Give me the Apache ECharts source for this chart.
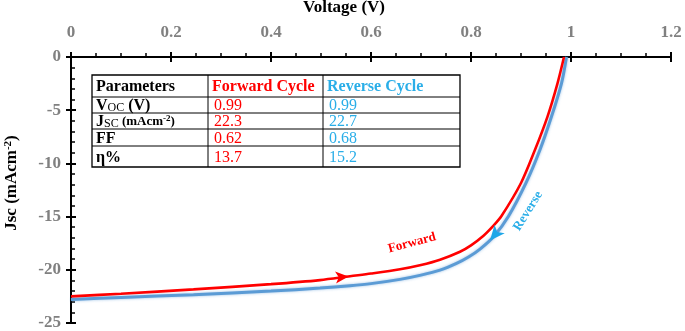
<!DOCTYPE html>
<html>
<head>
<meta charset="utf-8">
<script src="https://cdn.jsdelivr.net/npm/echarts@6/dist/echarts.min.js"></script>
<style>
html, body { margin: 0; padding: 0; background: #fff; }
#main { width: 685px; height: 331px; }
</style>
</head>
<body>
<div id="main"></div>
<script>
var chart = echarts.init(document.getElementById('main'));

// forward scan (red)
var fwdV = [0, 0.1, 0.245, 0.4, 0.498, 0.558, 0.6, 0.658, 0.70, 0.738, 0.778, 0.80, 0.825, 0.845, 0.861, 0.900, 0.928, 0.953, 0.973, 0.986];
var fwdJ = [-22.5, -22.25, -21.84, -21.35, -20.97, -20.6, -20.35, -19.95, -19.55, -19.05, -18.3, -17.7, -16.8, -15.85, -14.95, -11.84, -8.72, -5.6, -2.47, 0];
// reverse scan (blue)
var revV = [0, 0.1, 0.245, 0.4, 0.498, 0.558, 0.6, 0.658, 0.70, 0.738, 0.771, 0.795, 0.818, 0.846, 0.875, 0.910, 0.938, 0.961, 0.981, 0.991];
var revJ = [-22.78, -22.6, -22.34, -22.0, -21.72, -21.5, -21.3, -20.9, -20.5, -20.03, -19.4, -18.8, -18.05, -16.84, -14.97, -11.84, -8.72, -5.6, -2.47, 0];

var xTicks = ['0', '0.2', '0.4', '0.6', '0.8', '1', '1.2'];

// table
var tableHead = ['Parameters', 'Forward Cycle', 'Reverse Cycle'];
var tableRows = ['Voc (V)', 'Jsc (mAcm-2)', 'FF', 'η%'];
var fwdParams = ['0.99', '22.3', '0.62', '13.7'];
var revParams = ['0.99', '22.7', '0.68', '15.2'];

function pairs(xs, ys) {
    return xs.map(function (x, i) { return [x, ys[i]]; });
}

var serif = 'Liberation Serif';
var red = '#ff0000';
var blue = '#5b9bd5';
var lightBlue = '#2aaee8';

// table layout
var colX = [92, 208, 323, 460];
var rowY = [75, 97, 113, 129, 146, 167];
var tableEls = [];
tableEls.push({
    type: 'rect', shape: { x: colX[0], y: rowY[0], width: colX[3] - colX[0], height: rowY[5] - rowY[0] },
    style: { fill: '#fff', stroke: '#000', lineWidth: 1.3 }
});
for (var c = 1; c < 3; c++) {
    tableEls.push({ type: 'line', shape: { x1: colX[c], y1: rowY[0], x2: colX[c], y2: rowY[5] }, style: { stroke: '#000', lineWidth: 1 } });
}
for (var r = 1; r < 5; r++) {
    tableEls.push({ type: 'line', shape: { x1: colX[0], y1: rowY[r], x2: colX[3], y2: rowY[r] }, style: { stroke: '#000', lineWidth: 1 } });
}
var headColors = ['#000', red, lightBlue];
tableHead.forEach(function (t, i) {
    tableEls.push({
        type: 'text', x: colX[i] + 4, y: (rowY[0] + rowY[1]) / 2 + 1,
        style: { text: t, fill: headColors[i], font: 'bold 16px ' + serif, verticalAlign: 'middle' }
    });
});
var rowRich = [
    '{b|V}{s|OC}{b| (V)}',
    '{b|J}{s|SC}{m| (mAcm}{sup|-2}{m|)}',
    '{b|FF}',
    '{b|η%}'
];
tableRows.forEach(function (t, i) {
    var yc = (rowY[i + 1] + rowY[i + 2]) / 2 + 1;
    tableEls.push({
        type: 'text', x: colX[0] + 4, y: yc,
        style: {
            text: rowRich[i], verticalAlign: 'middle', fill: '#000',
            rich: {
                b: { font: 'bold 16px ' + serif, fill: '#000' },
                s: { font: '12px ' + serif, fill: '#000', verticalAlign: 'bottom' },
                m: { font: 'bold 13px ' + serif, fill: '#000' },
                sup: { font: 'bold 9px ' + serif, fill: '#000', verticalAlign: 'top' }
            }
        }
    });
    tableEls.push({
        type: 'text', x: colX[1] + 6, y: yc,
        style: { text: fwdParams[i], fill: red, font: '16px ' + serif, verticalAlign: 'middle' }
    });
    tableEls.push({
        type: 'text', x: colX[2] + 6, y: yc,
        style: { text: revParams[i], fill: lightBlue, font: '16px ' + serif, verticalAlign: 'middle' }
    });
});

var axisLabelStyle = { color: '#808080', fontFamily: serif, fontSize: 17, fontWeight: 'bold' };

option = {
    animation: false,
    backgroundColor: '#fff',
    grid: { left: 71, right: 14, top: 57, bottom: 8, outerBoundsMode: 'none' },
    xAxis: [
        {
            type: 'value', position: 'top', min: 0, max: 1.2, interval: 0.2,
            name: 'Voltage (V)', nameLocation: 'middle', nameGap: 41, nameMoveOverlap: false,
            nameTextStyle: { color: '#000', fontFamily: serif, fontSize: 17, fontWeight: 'bold', padding: [0, 54, 0, 0] },
            axisLine: { show: true, onZero: false, lineStyle: { color: '#000', width: 2 } },
            axisTick: { show: true, inside: false, length: 5, lineStyle: { color: '#000', width: 2 } },
            minorTick: { show: true, splitNumber: 4, length: 4, lineStyle: { color: '#000', width: 1.5 } },
            splitLine: { show: false },
            axisLabel: Object.assign({ margin: 16, formatter: function (v) {
                var i = Math.round(v / 0.2);
                return xTicks[i] !== undefined ? xTicks[i] : '';
            } }, axisLabelStyle)
        },
        {
            type: 'value', position: 'top', min: 0, max: 1.2, interval: 0.2,
            axisLine: { show: false, onZero: false },
            axisTick: { show: true, inside: true, length: 5, lineStyle: { color: '#000', width: 2 } },
            axisLabel: { show: false },
            splitLine: { show: false }
        }
    ],
    yAxis: [
        {
            type: 'value', min: -25, max: 0, interval: 5,
            name: 'Jsc (mAcm{sup|-2})', nameLocation: 'middle', nameGap: 50, nameRotate: 90, nameMoveOverlap: false,
            nameTextStyle: {
                color: '#000', fontFamily: serif, fontSize: 17, fontWeight: 'bold', padding: [0, 0, 0, 14],
                rich: { sup: { fontFamily: serif, fontSize: 11, fontWeight: 'bold', color: '#000', verticalAlign: 'top', padding: [0, 0, 7, 0] } }
            },
            axisLine: { show: true, onZero: false, lineStyle: { color: '#000', width: 2 } },
            axisTick: { show: true, inside: true, length: 5, lineStyle: { color: '#000', width: 2 } },
            minorTick: { show: true, splitNumber: 5, length: 4, lineStyle: { color: '#000', width: 1.5 } },
            splitLine: { show: false },
            axisLabel: Object.assign({ margin: 10 }, axisLabelStyle)
        },
        {
            type: 'value', position: 'left', min: -25, max: 0, interval: 5,
            axisLine: { show: false, onZero: false },
            axisTick: { show: true, inside: false, length: 5, lineStyle: { color: '#000', width: 2 } },
            axisLabel: { show: false },
            splitLine: { show: false }
        }
    ],
    series: [
        {
            name: 'Reverse', type: 'line', smooth: 0.3, showSymbol: false,
            data: pairs(revV, revJ),
            lineStyle: { color: blue, width: 3, shadowColor: 'rgba(91,155,213,0.6)', shadowBlur: 3 },
            markPoint: {
                symbol: 'arrow', symbolSize: [10, 15], symbolRotate: 140,
                itemStyle: { color: '#1ea7e8' },
                label: { show: false },
                data: [{ coord: [0.838, -17.25] }]
            }
        },
        {
            name: 'Forward', type: 'line', smooth: 0.3, showSymbol: false,
            data: pairs(fwdV, fwdJ),
            lineStyle: { color: red, width: 2.6 },
            markPoint: {
                symbol: 'arrow', symbolSize: [9, 13], symbolRotate: -85,
                itemStyle: { color: red },
                label: { show: false },
                data: [{ coord: [0.555, -20.62] }]
            }
        }
    ],
    graphic: tableEls.concat([
        {
            type: 'text', x: 412, y: 243, rotation: 15 * Math.PI / 180,
            style: { text: 'Forward', fill: red, font: 'bold 13px ' + serif, align: 'center', verticalAlign: 'middle' }
        },
        {
            type: 'text', x: 528, y: 211, rotation: 58 * Math.PI / 180,
            style: { text: 'Reverse', fill: lightBlue, font: 'bold 13px ' + serif, align: 'center', verticalAlign: 'middle' }
        }
    ])
};

chart.setOption(option);
</script>
</body>
</html>
